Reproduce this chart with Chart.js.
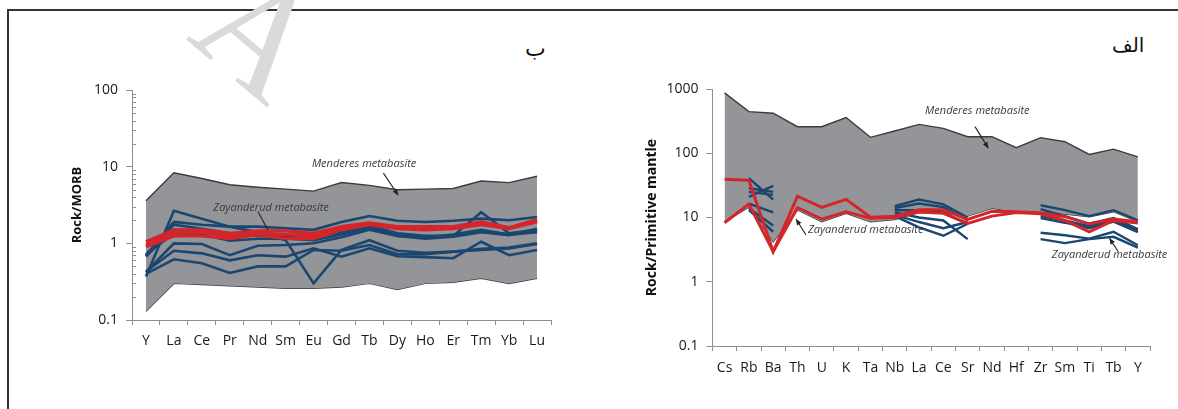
<!DOCTYPE html>
<html><head><meta charset="utf-8">
<script src="https://cdn.jsdelivr.net/npm/chart.js@4.4.0/dist/chart.umd.min.js"></script>
<style>
html,body{margin:0;padding:0;background:#fff;width:1178px;height:409px;overflow:hidden;position:relative;}
#frame{position:absolute;left:7px;top:9px;width:1200px;height:500px;border-left:2px solid #333;border-top:2px solid #333;}
#wm{position:absolute;left:200px;top:-42px;width:110px;height:150px;font-family:'Liberation Serif',serif;font-size:150px;line-height:1;color:#dadada;transform:rotate(40deg);transform-origin:50% 55%;white-space:nowrap;}
.ar{position:absolute;font-family:'DejaVu Sans',sans-serif;font-size:22px;color:#111;}
canvas{position:absolute;}
</style></head><body>
<div id="frame"></div>
<div id="wm">A</div>
<div class="ar" style="left:525px;top:36px;">ب</div>
<div class="ar" style="left:1112px;top:33px;font-size:20px;">الف</div>
<canvas id="left" width="540" height="320" style="left:40px;top:60px;"></canvas>
<canvas id="right" width="570" height="330" style="left:600px;top:60px;"></canvas>
<script>
// ---------- Left panel (Rock/MORB) ----------
const leftCategories = ['Y','La','Ce','Pr','Nd','Sm','Eu','Gd','Tb','Dy','Ho','Er','Tm','Yb','Lu'];
const leftYTicks = [0.1, 1, 10, 100];
const leftMendUpper = [3.6, 8.3, 7.0, 5.8, 5.4, 5.1, 4.8, 6.2, 5.7, 5.0, 5.1, 5.2, 6.5, 6.2, 7.5];
const leftMendLower = [0.13, 0.30, 0.29, 0.28, 0.27, 0.26, 0.26, 0.27, 0.30, 0.25, 0.30, 0.31, 0.35, 0.30, 0.35];
const leftBlue1 = [0.70, 1.90, 1.75, 1.65, 1.65, 1.57, 1.50, 1.90, 2.27, 1.97, 1.90, 1.97, 2.10, 2.00, 2.20];
const leftBlue2 = [0.67, 1.75, 1.55, 1.35, 1.35, 1.30, 1.25, 1.45, 1.70, 1.35, 1.25, 1.25, 2.55, 1.35, 1.50];
const leftBlue3 = [0.68, 1.50, 1.45, 1.20, 1.28, 1.25, 1.20, 1.40, 1.65, 1.30, 1.20, 1.30, 1.50, 1.30, 1.45];
const leftBlue4 = [0.72, 1.35, 1.30, 1.08, 1.15, 1.16, 1.10, 1.30, 1.55, 1.25, 1.15, 1.22, 1.40, 1.28, 1.55];
const leftBlue5 = [0.37, 2.66, 2.10, 1.65, 1.40, 1.10, 0.30, 0.82, 1.10, 0.80, 0.75, 0.78, 0.85, 0.88, 1.00];
const leftBlue6 = [0.42, 1.00, 0.98, 0.70, 0.93, 0.95, 1.00, 1.20, 1.50, 1.25, 1.20, 1.25, 1.45, 1.30, 1.40];
const leftBlue7 = [0.43, 0.80, 0.74, 0.60, 0.70, 0.67, 0.86, 0.67, 0.86, 0.68, 0.66, 0.64, 1.05, 0.70, 0.82];
const leftBlue8 = [0.40, 0.62, 0.55, 0.41, 0.50, 0.50, 0.82, 0.80, 0.95, 0.72, 0.72, 0.78, 0.82, 0.86, 0.98];
const leftRed1 = [1.05, 1.50, 1.50, 1.35, 1.45, 1.45, 1.35, 1.65, 1.85, 1.65, 1.65, 1.65, 1.90, 1.60, 2.05];
const leftRed2 = [0.90, 1.25, 1.25, 1.15, 1.30, 1.15, 1.15, 1.50, 1.75, 1.55, 1.50, 1.55, 1.75, 1.55, 1.90];
const leftRed3 = [0.95, 1.35, 1.40, 1.25, 1.35, 1.30, 1.25, 1.55, 1.80, 1.60, 1.58, 1.60, 1.82, 1.58, 1.98];

// ---------- Right panel (Rock/Primitive mantle) ----------
const rightCategories = ['Cs','Rb','Ba','Th','U','K','Ta','Nb','La','Ce','Sr','Nd','Hf','Zr','Sm','Ti','Tb','Y'];
const rightYTicks = [0.1, 1, 10, 100, 1000];
const rightMendUpper = [870, 444, 420, 259, 259, 360, 177, 222, 281, 244, 181, 181, 122, 175, 151, 96, 116, 88];
const rightMendLower = [8.6, 14.5, 4.2, 13.1, 8.6, 11.6, 8.6, 9.3, 12.0, 11.8, 10.5, 13.9, 12.3, 12.3, 11.3, 10.3, 12.3, 8.6];
const rightRed1 = [39.5, 38, 2.95, 21.5, 14.4, 19.2, 10.1, 10.5, 13.2, 13.2, 9.3, 12.5, 12.3, 11.8, 10.3, 7.9, 9.5, 8.6];
const rightRed2 = [8.3, 16.2, 2.95, 14.2, 9.4, 12.3, 9.7, 10.0, 12.2, 11.6, 8.1, 10.5, 12.0, 11.4, 9.0, 6.0, 9.0, 8.2];
const N = null;
const rightBlueRb1 = [N, 41, 19, N,N,N,N,N,N,N,N,N,N,N,N,N,N,N];
const rightBlueRb2 = [N, 28.5, 25, N,N,N,N,N,N,N,N,N,N,N,N,N,N,N];
const rightBlueRb3 = [N, 25, 22.5, N,N,N,N,N,N,N,N,N,N,N,N,N,N,N];
const rightBlueRb4 = [N, 21, 31, N,N,N,N,N,N,N,N,N,N,N,N,N,N,N];
const rightBlueRb5 = [N, 16.5, 12, N,N,N,N,N,N,N,N,N,N,N,N,N,N,N];
const rightBlueRb6 = [N, 14, 7.5, N,N,N,N,N,N,N,N,N,N,N,N,N,N,N];
const rightBlueRb7 = [N, 13, 6, N,N,N,N,N,N,N,N,N,N,N,N,N,N,N];
const rightBlueNb1 = [N,N,N,N,N,N,N, 15, 19, 16, 10, N,N,N,N,N,N,N];
const rightBlueNb2 = [N,N,N,N,N,N,N, 14, 16.5, 14.5, 9, N,N,N,N,N,N,N];
const rightBlueNb3 = [N,N,N,N,N,N,N, 13, 13, 12, 8, N,N,N,N,N,N,N];
const rightBlueNb4 = [N,N,N,N,N,N,N, 12, 10, 9, 4.6, N,N,N,N,N,N,N];
const rightBlueNb5 = [N,N,N,N,N,N,N, 11, 8.5, 6.8, 8.5, N,N,N,N,N,N,N];
const rightBlueNb6 = [N,N,N,N,N,N,N, 10.5, 7, 5.2, 8, N,N,N,N,N,N,N];
const rightBlueZr1 = [N,N,N,N,N,N,N,N,N,N,N,N,N, 15.5, 13, 10.5, 13, 9];
const rightBlueZr2 = [N,N,N,N,N,N,N,N,N,N,N,N,N, 13.5, 10.5, 8, 9.8, 6.6];
const rightBlueZr3 = [N,N,N,N,N,N,N,N,N,N,N,N,N, 10.5, 9, 7.3, 9, 6.2];
const rightBlueZr4 = [N,N,N,N,N,N,N,N,N,N,N,N,N, 9.8, 8.3, 6.8, 8.6, 5.9];
const rightBlueZr5 = [N,N,N,N,N,N,N,N,N,N,N,N,N, 5.8, 5.3, 4.7, 6.0, 3.7];
const rightBlueZr6 = [N,N,N,N,N,N,N,N,N,N,N,N,N, 4.6, 4.0, 4.6, 5.0, 3.4];

// ---------- styling ----------
const GRAY_FILL = '#939598', ENV_LINE = '#3c3c3c', BLUE = '#1a4670', RED = '#d4262a', AXIS = '#8f8f8f';
const isPow10 = v => { const l = Math.log10(v); return Math.abs(l - Math.round(l)) < 1e-6; };

function envelope(upper, lower) {
  return [
    {data: upper, borderColor: ENV_LINE, borderWidth: 1.4, backgroundColor: GRAY_FILL, fill: '+1', pointRadius: 0, tension: 0, order: 10},
    {data: lower, borderColor: ENV_LINE, borderWidth: 1.4, fill: false, pointRadius: 0, tension: 0, order: 10}
  ];
}
function series(data, color, width, order) {
  return {data, borderColor: color, borderWidth: width, fill: false, pointRadius: 0, tension: 0, order, spanGaps: false, borderJoinStyle: 'miter'};
}

const notesPlugin = {
  id: 'notes',
  afterDraw(chart, args, opts) {
    const ctx = chart.ctx, xs = chart.scales.x, ys = chart.scales.y;
    ctx.save();
    if (opts.minorTicks) {
      ctx.strokeStyle = AXIS; ctx.lineWidth = 1;
      ys.ticks.forEach(t => {
        if (!isPow10(t.value)) {
          const py = Math.round(ys.getPixelForValue(t.value)) + 0.5;
          ctx.beginPath(); ctx.moveTo(xs.left, py); ctx.lineTo(xs.left + 4, py); ctx.stroke();
        }
      });
    }
    (opts.items || []).forEach(it => {
      if (it.type === 'text') {
        ctx.font = 'italic 11px "Open Sans"';
        ctx.fillStyle = '#3a3a3a';
        ctx.textAlign = 'left'; ctx.textBaseline = 'middle';
        ctx.fillText(it.text, xs.getPixelForValue(it.x), ys.getPixelForValue(it.y));
      } else {
        const x1 = xs.getPixelForValue(it.x1), y1 = ys.getPixelForValue(it.y1);
        const x2 = xs.getPixelForValue(it.x2), y2 = ys.getPixelForValue(it.y2);
        ctx.strokeStyle = '#222'; ctx.fillStyle = '#222'; ctx.lineWidth = 1.1;
        ctx.beginPath(); ctx.moveTo(x1, y1); ctx.lineTo(x2, y2); ctx.stroke();
        if (it.head) {
          const a = Math.atan2(y2 - y1, x2 - x1), L = 6, W = 2.6;
          ctx.beginPath();
          ctx.moveTo(x2, y2);
          ctx.lineTo(x2 - L * Math.cos(a) + W * Math.sin(a), y2 - L * Math.sin(a) - W * Math.cos(a));
          ctx.lineTo(x2 - L * Math.cos(a) - W * Math.sin(a), y2 - L * Math.sin(a) + W * Math.cos(a));
          ctx.closePath(); ctx.fill();
        }
      }
    });
    ctx.restore();
  }
};

function makeOptions(cfg) {
  return {
    responsive: false, animation: false, maintainAspectRatio: false,
    layout: {padding: cfg.padding},
    plugins: {legend: {display: false}, tooltip: {enabled: false}, notes: cfg.notes},
    scales: {
      x: {
        type: 'category', offset: true,
        grid: {offset: true, drawOnChartArea: false, drawTicks: true, tickLength: 5, color: AXIS},
        border: {display: true, color: AXIS, width: 1},
        ticks: {autoSkip: false, maxRotation: 0, minRotation: 0, padding: cfg.xPad, color: '#1a1a1a', font: {family: 'Open Sans', size: 14}},
        afterFit: s => { s.height = cfg.xHeight; }
      },
      y: {
        type: 'logarithmic', min: cfg.yTicks[0], max: cfg.yTicks[cfg.yTicks.length - 1],
        afterBuildTicks: s => {
          const vals = [];
          cfg.yTicks.forEach((m, i) => {
            vals.push(m);
            if (cfg.minor && i < cfg.yTicks.length - 1) for (let k = 2; k <= 9; k++) vals.push(m * k);
          });
          s.ticks = vals.map(v => ({value: v, major: isPow10(v)}));
        },
        grid: {drawOnChartArea: false, drawTicks: true, tickLength: 6, color: c => (c.tick && isPow10(c.tick.value)) ? AXIS : 'rgba(0,0,0,0)'},
        border: {display: true, color: AXIS, width: 1},
        ticks: {autoSkip: false, padding: 8, color: '#1a1a1a', font: {family: 'Open Sans', size: 14},
          callback: v => isPow10(v) ? String(v) : ''},
        title: {display: true, text: cfg.yTitle, color: '#111', font: {family: 'Open Sans', size: cfg.titleSize, weight: 'bold'}, padding: {top: cfg.titlePad, bottom: 0}},
        afterFit: s => { s.width = cfg.yWidth; }
      }
    }
  };
}

// Left chart
new Chart(document.getElementById('left'), {
  type: 'line',
  data: {
    labels: leftCategories,
    datasets: [
      ...envelope(leftMendUpper, leftMendLower),
      series(leftBlue1, BLUE, 2.6, 3), series(leftBlue2, BLUE, 2.6, 3), series(leftBlue3, BLUE, 2.6, 3),
      series(leftBlue4, BLUE, 2.6, 3), series(leftBlue5, BLUE, 2.6, 3), series(leftBlue6, BLUE, 2.6, 3),
      series(leftBlue7, BLUE, 2.6, 3), series(leftBlue8, BLUE, 2.6, 3),
      series(leftRed1, RED, 3.2, 2), series(leftRed2, RED, 3.2, 2), series(leftRed3, RED, 3.2, 2)
    ]
  },
  options: makeOptions({
    padding: {top: 30, right: 29, left: 0, bottom: 0}, xHeight: 60, yWidth: 92, xPad: 8,
    yTicks: leftYTicks, minor: true, yTitle: 'Rock/MORB', titleSize: 13, titlePad: 29,
    notes: {minorTicks: true, items: [
      {type: 'text', text: 'Menderes metabasite', x: 5.94, y: 10.9},
      {type: 'arrow', x1: 8.5, y1: 8.25, x2: 9.03, y2: 4.23, head: true},
      {type: 'text', text: 'Zayanderud metabasite', x: 2.41, y: 2.92},
      {type: 'arrow', x1: 4.01, y1: 2.61, x2: 4.37, y2: 1.48, head: false}
    ]}
  }),
  plugins: [notesPlugin]
});

// Right chart
new Chart(document.getElementById('right'), {
  type: 'line',
  data: {
    labels: rightCategories,
    datasets: [
      ...envelope(rightMendUpper, rightMendLower),
      ...[rightBlueRb1, rightBlueRb2, rightBlueRb3, rightBlueRb4, rightBlueRb5, rightBlueRb6, rightBlueRb7,
          rightBlueNb1, rightBlueNb2, rightBlueNb3, rightBlueNb4, rightBlueNb5, rightBlueNb6,
          rightBlueZr1, rightBlueZr2, rightBlueZr3, rightBlueZr4, rightBlueZr5, rightBlueZr6].map(d => series(d, BLUE, 2.4, 3)),
      series(rightRed1, RED, 3, 2), series(rightRed2, RED, 3, 2)
    ]
  },
  options: makeOptions({
    padding: {top: 29, right: 20, left: 0, bottom: 0}, xHeight: 44, yWidth: 112.4, xPad: 9,
    yTicks: rightYTicks, minor: false, yTitle: 'Rock/Primitive mantle', titleSize: 14, titlePad: 44,
    notes: {minorTicks: false, items: [
      {type: 'text', text: 'Menderes metabasite', x: 8.25, y: 461},
      {type: 'arrow', x1: 10.3, y1: 260, x2: 10.85, y2: 120, head: true},
      {type: 'text', text: 'Zayanderud metabasite', x: 3.43, y: 6.4},
      {type: 'arrow', x1: 3.35, y1: 5.34, x2: 2.94, y2: 9.5, head: true},
      {type: 'text', text: 'Zayanderud metabasite', x: 13.46, y: 2.6},
      {type: 'arrow', x1: 16.2, y1: 2.93, x2: 15.83, y2: 4.74, head: true}
    ]}
  }),
  plugins: [notesPlugin]
});
</script>
</body></html>
